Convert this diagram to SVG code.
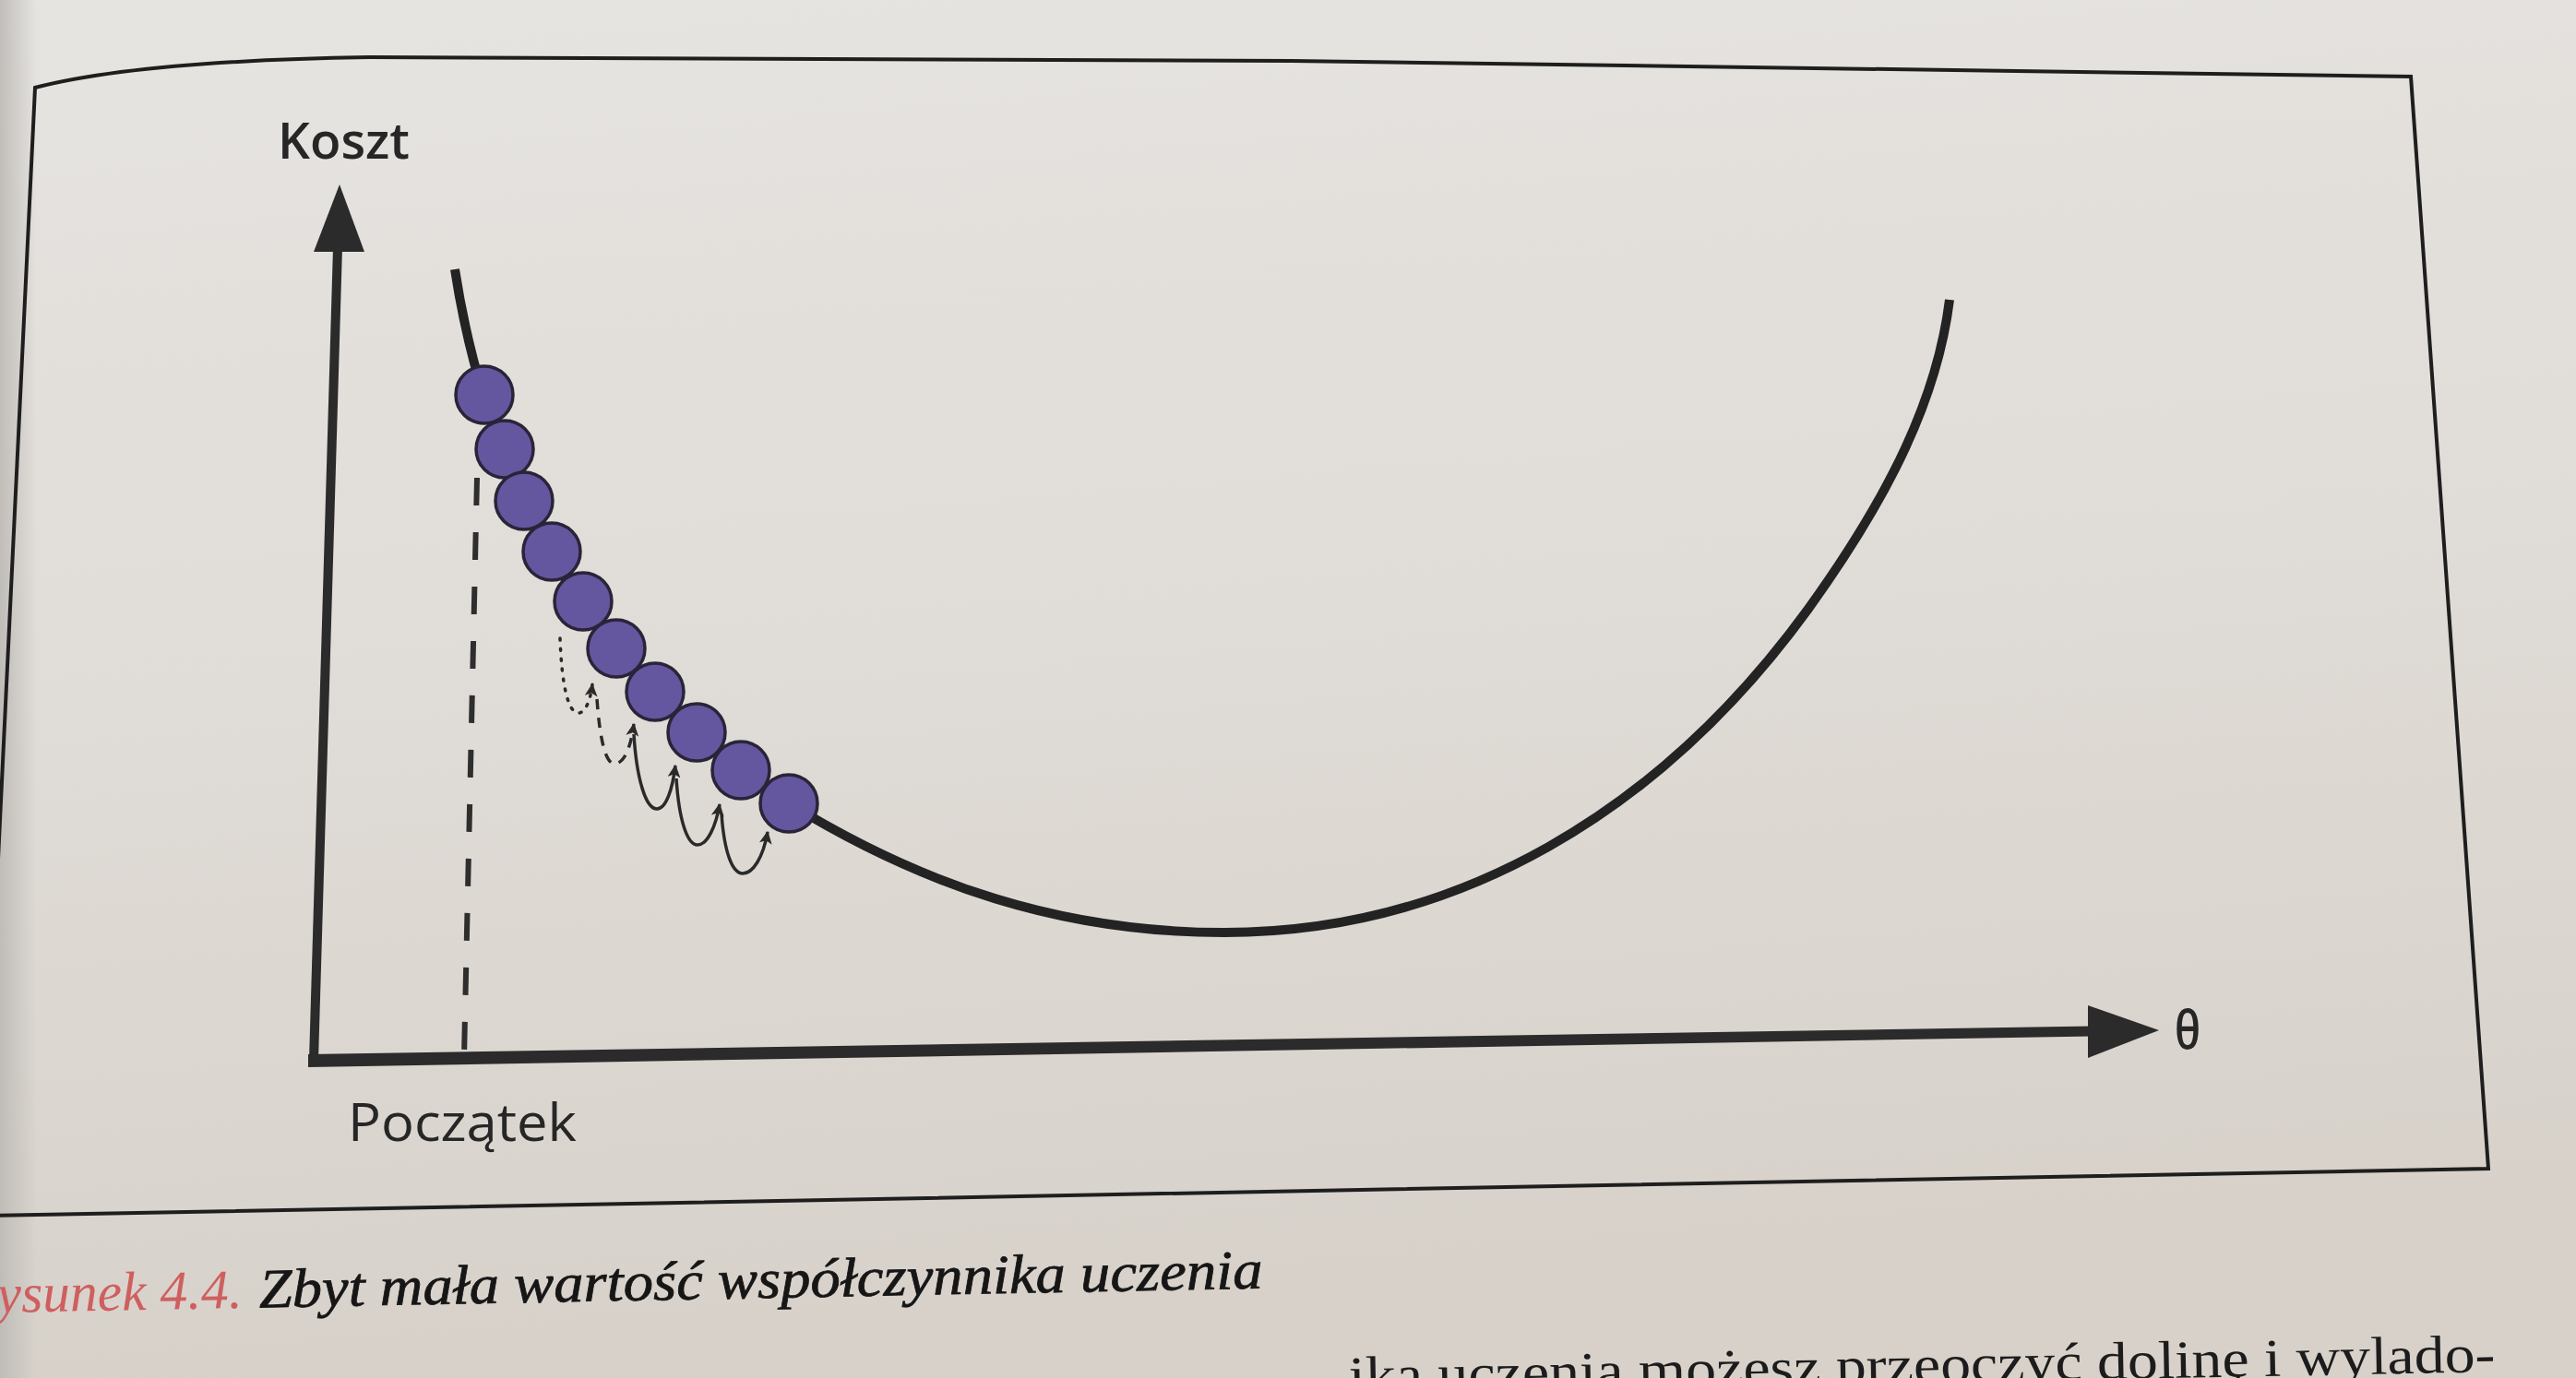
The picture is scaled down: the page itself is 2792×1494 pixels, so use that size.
<svg xmlns="http://www.w3.org/2000/svg" width="2792" height="1494" viewBox="0 0 2792 1494">
  <defs>
    <linearGradient id="paper" x1="0" y1="0" x2="0.15" y2="1">
      <stop offset="0" stop-color="#e6e4e1"/>
      <stop offset="0.5" stop-color="#e0dcd7"/>
      <stop offset="1" stop-color="#d7d1ca"/>
    </linearGradient>
    <linearGradient id="edge" x1="0" y1="0" x2="1" y2="0">
      <stop offset="0" stop-color="#bdbab6" stop-opacity="0.9"/>
      <stop offset="1" stop-color="#bdbab6" stop-opacity="0"/>
    </linearGradient>
    <marker id="head" markerUnits="userSpaceOnUse" viewBox="0 0 12 12" refX="11" refY="6" markerWidth="14" markerHeight="14" orient="auto">
      <path d="M0,0 L12,6 L0,12 L3,6 z" fill="#2a2a2a"/>
    </marker>
    <style>
      .frame { fill: none; stroke: #1e1e1e; stroke-width: 4; }
      .axis { stroke: #2b2b2b; stroke-width: 10; fill: none; }
      .axishead { fill: #2b2b2b; }
      .curve { fill: none; stroke: #232323; stroke-width: 10; stroke-linecap: butt; }
      .guide { fill: none; stroke: #2e2e2e; stroke-width: 6; stroke-dasharray: 30 29; }
      .ball { fill: #64569f; stroke: #2a2438; stroke-width: 3.5; }
      .step { fill: none; stroke: #2a2a2a; stroke-width: 3.5; marker-end: url(#head); }
      .dotted { stroke-dasharray: 2 9; stroke-linecap: round; }
      .dashed { stroke-dasharray: 11 9; }
      .label { font-family: "Open Sans", "Noto Sans", sans-serif; fill: #262626; }
      .serif { font-family: "Liberation Serif", "DejaVu Serif", serif; }
    </style>
  </defs>

  <rect width="2792" height="1494" fill="url(#paper)"/>
  <rect width="40" height="1494" fill="url(#edge)"/>

  <g id="frame">
    <path class="frame" d="M-12,1140 L38,95 Q150,66 400,62 L1400,66 L2613,83 L2697,1267 L-10,1318"/>
  </g>

  <g id="axes">
    <line class="axis" x1="340" y1="1150" x2="366" y2="268"/>
    <polygon class="axishead" points="368,200 395,273 340,273"/>
    <polygon class="axishead" points="334,1143 2268,1112.5 2268,1123.5 334,1157"/>
    <polygon class="axishead" points="2340,1117 2263,1147 2263,1090"/>
  </g>

  <g id="start-guide">
    <line class="guide" x1="517" y1="518" x2="503" y2="1146"/>
  </g>

  <g id="cost-curve">
    <path class="curve" d="M493,292 C505,370 530,470 580,570 C640,690 740,800 855,871 C1000,960 1150,1011 1327,1011 C1580,1011 1800,880 1960,660 C2050,535 2100,430 2113,325"/>
  </g>

  <g id="balls">
    <g id="ball-1"><circle class="ball" cx="525" cy="428" r="31"/></g>
    <g id="ball-2"><circle class="ball" cx="547" cy="487" r="31"/></g>
    <g id="ball-3"><circle class="ball" cx="568" cy="543" r="31"/></g>
    <g id="ball-4"><circle class="ball" cx="598" cy="598" r="31"/></g>
    <g id="ball-5"><circle class="ball" cx="632" cy="652" r="31"/></g>
    <g id="ball-6"><circle class="ball" cx="668" cy="703" r="31"/></g>
    <g id="ball-7"><circle class="ball" cx="710" cy="750" r="31"/></g>
    <g id="ball-8"><circle class="ball" cx="755" cy="794" r="31"/></g>
    <g id="ball-9"><circle class="ball" cx="803" cy="835" r="31"/></g>
    <g id="ball-10"><circle class="ball" cx="855" cy="871" r="31"/></g>
  </g>

  <g id="connectors">
    <path class="step dotted" d="M607,692 C609,745 616,773 627,773 C634,773 640,760 642,742"/>
    <path class="step dashed" d="M647,758 C650,800 656,828 666,828 C675,828 683,815 687,785"/>
    <path class="step" d="M687,796 C690,845 700,877 712,877 C722,877 729,855 732,830"/>
    <path class="step" d="M733,844 C736,890 745,916 756,916 C767,916 776,895 780,872"/>
    <path class="step" d="M782,882 C785,925 794,947 805,947 C816,947 827,930 832,902"/>
  </g>

  <g id="labels">
    <text class="label" x="301" y="172" font-size="54" font-weight="600" textLength="143" lengthAdjust="spacingAndGlyphs">Koszt</text>
    <text class="label" x="377" y="1237" font-size="56" textLength="248" lengthAdjust="spacingAndGlyphs">Początek</text>
    <text class="label" x="2357" y="1137" font-size="58" font-weight="600" textLength="28" lengthAdjust="spacingAndGlyphs">θ</text>
  </g>

  <g id="caption" transform="rotate(-1.1 0 1423)">
    <text class="serif" x="-3" y="1423" font-size="60" font-style="italic" fill="#cf5f5f" textLength="266" lengthAdjust="spacingAndGlyphs">ysunek 4.4.</text>
    <text class="serif" x="281" y="1423" font-size="60" font-style="italic" fill="#161616" stroke="#161616" stroke-width="0.8" textLength="1088" lengthAdjust="spacingAndGlyphs">Zbyt mała wartość współczynnika uczenia</text>
  </g>

  <g id="body-text" transform="rotate(-1.1 1462 1511)">
    <text class="serif" x="1462" y="1511" font-size="58" fill="#1c1c1c" textLength="1243" lengthAdjust="spacingAndGlyphs">ika uczenia możesz przeoczyć dolinę i wylado-</text>
  </g>
</svg>
